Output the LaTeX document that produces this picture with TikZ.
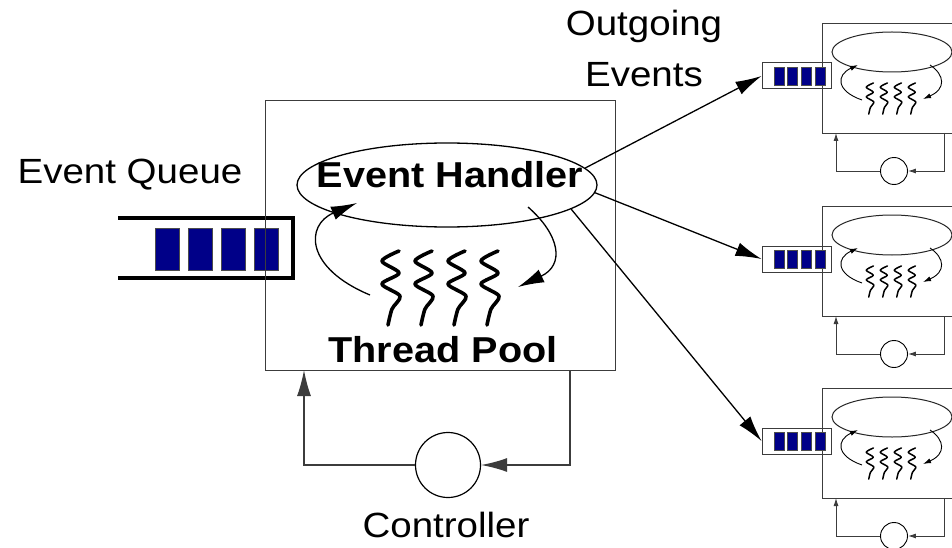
\documentclass[tikz,border=0pt]{standalone}
\usepackage{graphicx}
\usepackage{fontspec}
\setmainfont{Liberation Sans}
\usetikzlibrary{arrows.meta,shapes.geometric}
\definecolor{qblue}{RGB}{0,0,136}
\definecolor{edge}{RGB}{60,60,60}
\newcommand{\wide}[1]{\scalebox{1.1}[1]{#1}}
\tikzset{
  lbl/.style={font=\fontsize{35}{40}\selectfont, inner sep=0pt, anchor=base},
  blbl/.style={font=\fontsize{36}{40}\selectfont\bfseries, inner sep=0pt, anchor=base},
  bigtip/.style={-{Latex[length=26pt,width=14pt]}, line width=1.3pt},
  smalltip/.style={-{Latex[length=8pt,width=5pt]}, line width=0.9pt},
  qblk/.style={fill=qblue, draw=black!70, line width=0.6pt},
  thread/.pic={\draw[line cap=round, line join=round] plot[smooth, tension=0.5] coordinates {(8,0) (-9,10) (8,22) (-9,33) (9,45) (1,58) (-3,74)};}
}
\begin{document}
\begin{tikzpicture}[x=1pt,y=-1pt]
\useasboundingbox (0,0) rectangle (952,548);
\clip (0,0) rectangle (952,548);
\fill[white] (0,0) rectangle (952,548);

% ---------- event queue ----------
\node[lbl] (eqlabel) at (130,183) {\wide{Event Queue}};
\draw[line width=4pt] (118,218) -- (293,218) -- (293,278) -- (118,278);
\foreach \i in {0,1,2,3}
  \draw[qblk] (155+33*\i,228) rectangle (179+33*\i,270);

% ---------- main stage ----------
\node[draw=edge, line width=1.3pt, anchor=north west, minimum width=350pt, minimum height=270pt, inner sep=0pt] (mbox) at (265,100) {};
\node[draw=black, line width=1.3pt, ellipse, minimum width=300pt, minimum height=84pt, inner sep=0pt] (eh) at (447,185) {};
\node[blbl] (ehlabel) at (450,187) {\wide{Event Handler}};
\node[blbl] (tplabel) at (443,362) {\wide{Thread Pool}};
\foreach \c in {391,424,457,490}
  \pic[line width=3.6pt] at (\c,251) {thread};
\draw[bigtip] (370,295) .. controls (305,268) and (305,225) .. (357,203);
\draw[bigtip] (528,207) .. controls (560,235) and (565,265) .. (518,287);

% ---------- controller ----------
\node[draw=black, line width=1.2pt, circle, minimum size=65pt, inner sep=0pt] (ctrl) at (448,465) {};
\node[lbl] (ctrllabel) at (446,537) {\wide{Controller}};
\coordinate (cout) at (570,370);
\coordinate (cin) at (304,370);
\draw[bigtip, draw=edge] (cout) -- (570,465) -- (ctrl.east);
\draw[bigtip, draw=edge] (ctrl.west) -- (304,465) -- (cin);

% ---------- outgoing ----------
\node[lbl] (og1) at (644,36) {\wide{Outgoing}};
\node[lbl] (og2) at (644,87) {\wide{Events}};

% ---------- downstream stages ----------
\foreach \t/\n in {23/1,206/2,388/3}{
  \node[draw=edge, line width=1pt, anchor=north west, minimum width=160pt, minimum height=110pt, inner sep=0pt] (ub\n) at (822,\t) {};
  \node[draw=edge, line width=1pt, minimum width=69pt, minimum height=26pt, inner sep=0pt] (q\n) at (796.5,\t+53) {};
  \foreach \i in {0,1,2,3}
    \draw[qblk] (774+13.7*\i,\t+44) rectangle (784+13.7*\i,\t+62);
  \node[draw=black!85, line width=1pt, ellipse, minimum width=120pt, minimum height=40pt, inner sep=0pt] (ue\n) at (892,\t+29) {};
  \foreach \c in {870,884,898,912}
    \pic[scale=0.42, line width=1.5pt] at (\c,\t+60) {thread};
  \draw[smalltip] (862,\t+77) .. controls (836,\t+68) and (836,\t+52) .. (858,\t+42);
  \draw[smalltip] (930,\t+42) .. controls (945,\t+52) and (946,\t+66) .. (923,\t+76);
  \node[draw=black, line width=0.9pt, circle, minimum size=27pt, inner sep=0pt] (uc\n) at (894,\t+148) {};
  \coordinate (uo\n) at (944,\t+110);
  \coordinate (ui\n) at (836,\t+110);
  \draw[smalltip, draw=edge] (uo\n) -- (944,\t+148) -- (uc\n.east);
  \draw[smalltip, draw=edge] (uc\n.west) -- (836,\t+148) -- (ui\n);
}

% ---------- outgoing arrows ----------
\draw[bigtip] (eh.7) -- (q1.west);
\draw[bigtip] (eh.-3) -- (q2.west);
\draw[bigtip] (eh.-11) -- (q3.west);
\end{tikzpicture}
\end{document}
